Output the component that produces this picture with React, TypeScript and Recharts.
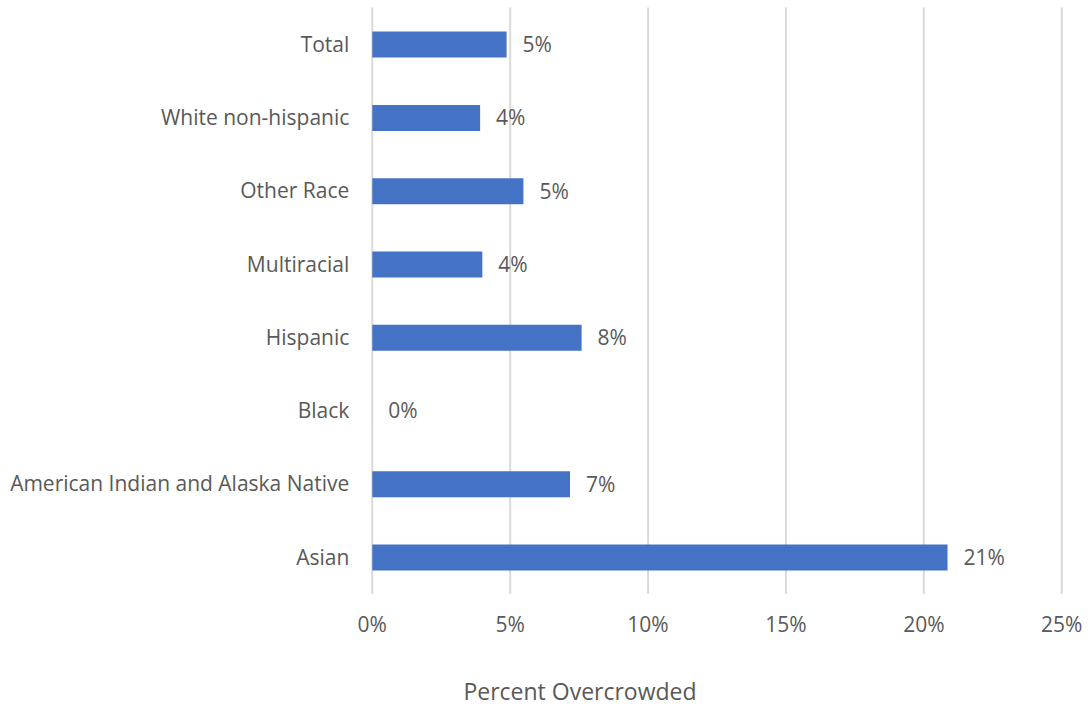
import React from "react";
import { Bar, BarChart, CartesianGrid, LabelList, XAxis, YAxis } from "recharts";

const groups = [
  "Total",
  "White non-hispanic",
  "Other Race",
  "Multiracial",
  "Hispanic",
  "Black",
  "American Indian and Alaska Native",
  "Asian",
];
const overcrowded = [4.87, 3.91, 5.48, 3.99, 7.59, 0, 7.17, 20.86];
const xTicks = [0, 5, 10, 15, 20, 25];

const data = groups.map((group, i) => ({ group, value: overcrowded[i] }));

const font = "'Open Sans', sans-serif";
const ink = "#595959";

export default function App() {
  return (
    <div style={{ position: "absolute", left: 0, top: 0, background: "#fff" }}>
      <BarChart
        width={1090}
        height={706}
        data={data}
        layout="vertical"
        margin={{ top: 7.6, right: 28.3, bottom: 0, left: 0 }}
        style={{ fontFamily: font }}
      >
        <CartesianGrid horizontal={false} stroke="#d9d9d9" strokeWidth={2} />
        <XAxis
          type="number"
          domain={[0, 25]}
          ticks={xTicks}
          tickFormatter={(v) => `${v}%`}
          axisLine={false}
          tickLine={false}
          tickMargin={17}
          height={112.2}
          tick={{ fill: ink, fontSize: 21 }}
          label={{
            value: "Percent Overcrowded",
            position: "insideBottom",
            offset: 6,
            dx: -137,
            fill: ink,
            fontSize: 23,
          }}
        />
        <YAxis
          type="category"
          dataKey="group"
          width={372.3}
          axisLine={false}
          tickLine={false}
          tickMargin={17}
          interval={0}
          tick={{ fill: ink, fontSize: 21 }}
        />
        <Bar
          dataKey="value"
          fill="#4472C4"
          barSize={26}
          minPointSize={0.01}
          isAnimationActive={false}
        >
          <LabelList
            dataKey="value"
            position="right"
            offset={16}
            formatter={(v: any) => `${Math.round(Number(v))}%`}
            style={{ fill: ink, fontSize: 21, fontFamily: font }}
          />
        </Bar>
      </BarChart>
    </div>
  );
}
